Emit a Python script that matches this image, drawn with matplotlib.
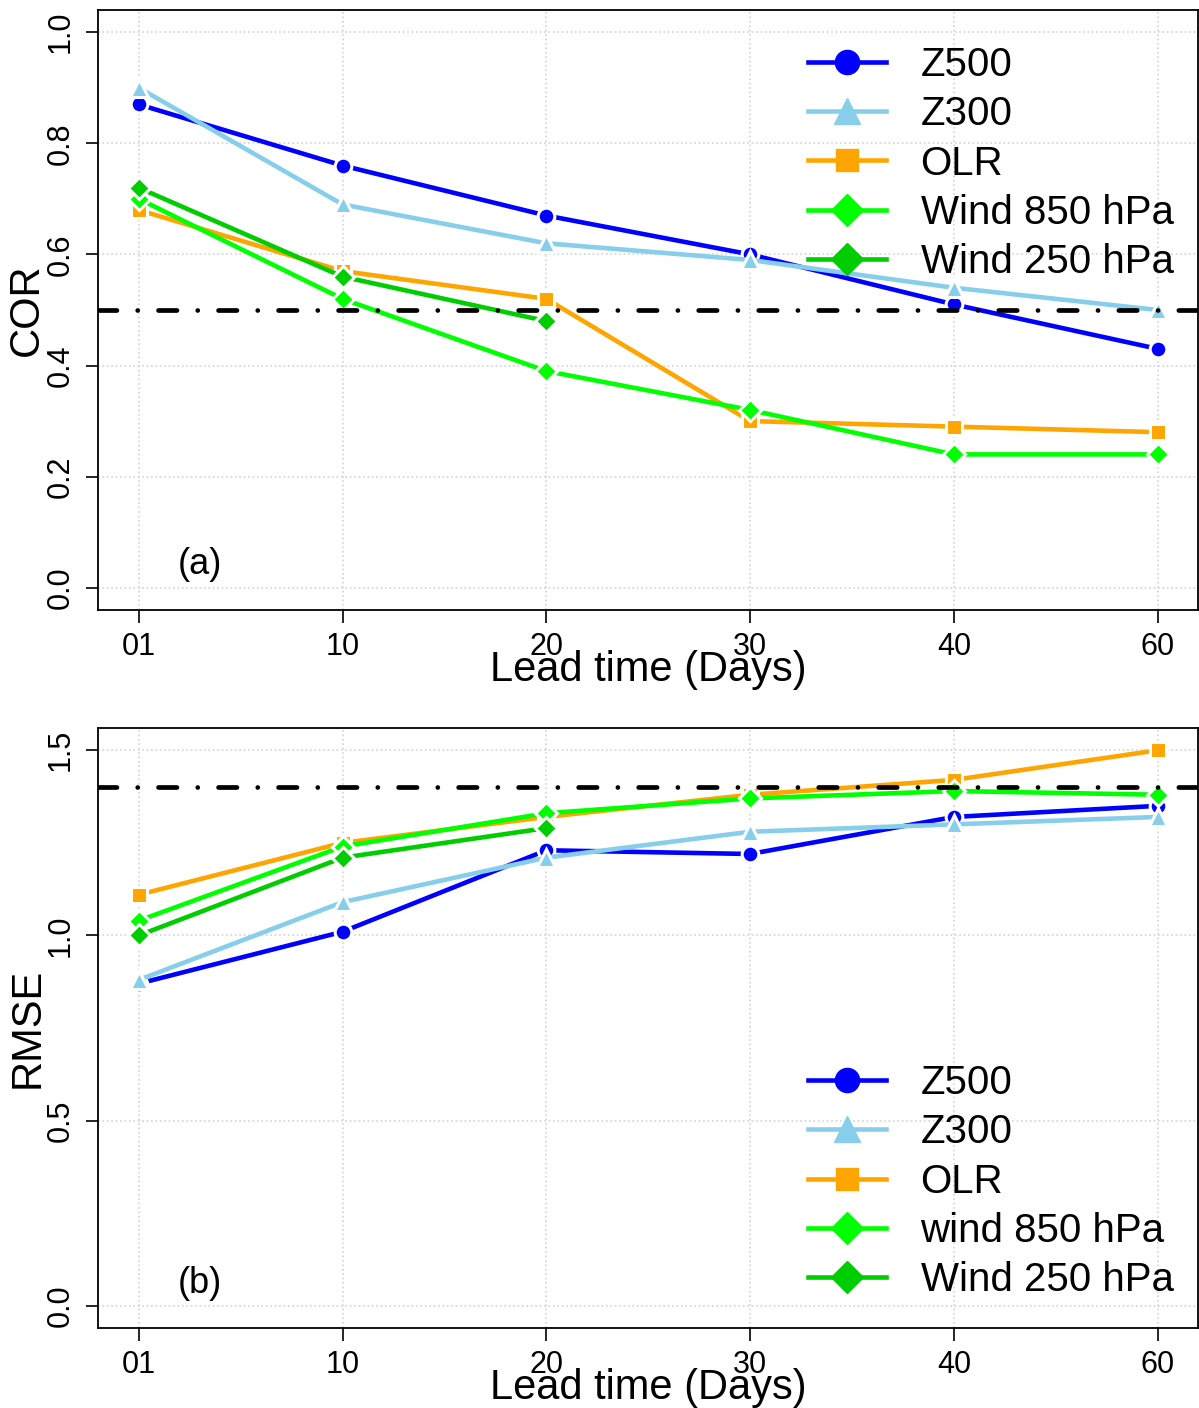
import numpy as np
import matplotlib.pyplot as plt
from matplotlib.lines import Line2D

plt.rcParams['font.family'] = ['Liberation Sans', 'DejaVu Sans']

# lead times (categorical, equally spaced)
lead = ["01", "10", "20", "30", "40", "60"]

# (a) correlation
cor_z500 = [0.87, 0.76, 0.67, 0.60, 0.51, 0.43]
cor_z300 = [0.90, 0.69, 0.62, 0.59, 0.54, 0.50]
cor_olr = [0.68, 0.57, 0.52, 0.30, 0.29, 0.28]
cor_w850 = [0.70, 0.52, 0.39, 0.32, 0.24, 0.24]
cor_w250 = [0.72, 0.56, 0.48, np.nan, np.nan, np.nan]

# (b) RMSE
rmse_z500 = [0.87, 1.01, 1.23, 1.22, 1.32, 1.35]
rmse_z300 = [0.88, 1.09, 1.21, 1.28, 1.30, 1.32]
rmse_olr = [1.11, 1.25, 1.32, 1.38, 1.42, 1.50]
rmse_w850 = [1.04, 1.24, 1.33, 1.37, 1.39, 1.38]
rmse_w250 = [1.00, 1.21, 1.29, np.nan, np.nan, np.nan]

cor_thresh = 0.5
rmse_thresh = 1.4

colors = ["#0000FF", "#87CEEB", "#FFA500", "#00FF00", "#00CD00"]
markers = ["o", "^", "s", "D", "D"]
msizes = [12, 13, 11, 11, 11]

labels_a = ["Z500", "Z300", "OLR", "Wind 850 hPa", "Wind 250 hPa"]
labels_b = ["Z500", "Z300", "OLR", "wind 850 hPa", "Wind 250 hPa"]

fig = plt.figure(figsize=(11.99, 14.08), dpi=100)
ax1 = fig.add_axes([0.0817, 0.5668, 0.9178, 0.4261])
ax2 = fig.add_axes([0.0817, 0.0568, 0.9178, 0.4261])


def panel(ax, series, labels, thresh, yticks, ylim, ylab, tag, leg_y):
    x = np.arange(len(lead))
    handles = []
    for ys, c, m, ms in zip(series, colors, markers, msizes):
        # white marker edge mimics the gaps of R's type="b"
        ax.plot(x, ys, color=c, lw=3.3, marker=m, ms=ms, mfc=c,
                mec="white", mew=2.2, zorder=3)
        handles.append(Line2D([], [], color=c, lw=3.3, marker=m,
                              ms=ms * 1.45, mfc=c, mec=c))
    ax.axhline(thresh, color="black", lw=3.4,
               linestyle=(0, (3.9, 4.4, 0.01, 4.4)),
               dash_capstyle="round", zorder=4)

    ax.set_xlim(-0.2, 5.2)
    ax.set_ylim(*ylim)
    ax.set_xticks(x)
    ax.set_xticklabels(lead)
    ax.set_yticks(yticks)
    ax.set_yticklabels([f"{v:.1f}" for v in yticks], rotation=90, va="center")
    ax.tick_params(axis="both", labelsize=22, length=9, width=1.2, pad=7)

    ax.grid(True, color="lightgray", linestyle=":", lw=1.2)
    ax.set_axisbelow(True)
    for s in ax.spines.values():
        s.set_linewidth(1.3)

    ax.set_xlabel("Lead time (Days)", fontsize=30)
    ax.xaxis.set_label_coords(0.5, -0.066)
    ax.set_ylabel(ylab, fontsize=30)
    ax.yaxis.set_label_coords(-0.046, 0.5)

    ax.text(0.0926, 0.075, tag, transform=ax.transAxes, fontsize=26,
            ha="center", va="center")

    ax.legend(handles, labels, loc="upper left", bbox_to_anchor=(0.645, leg_y),
              frameon=False, fontsize=29, handlelength=1.95, handletextpad=0.85,
              labelspacing=0.28, borderpad=0, borderaxespad=0, numpoints=1)


panel(ax1, [cor_z500, cor_z300, cor_olr, cor_w850, cor_w250], labels_a,
      cor_thresh, [0.0, 0.2, 0.4, 0.6, 0.8, 1.0], (-0.04, 1.04), "COR", "(a)", 0.94)
panel(ax2, [rmse_z500, rmse_z300, rmse_olr, rmse_w850, rmse_w250], labels_b,
      rmse_thresh, [0.0, 0.5, 1.0, 1.5], (-0.06, 1.56), "RMSE", "(b)", 0.44)

fig.savefig("out.png", dpi=100)
